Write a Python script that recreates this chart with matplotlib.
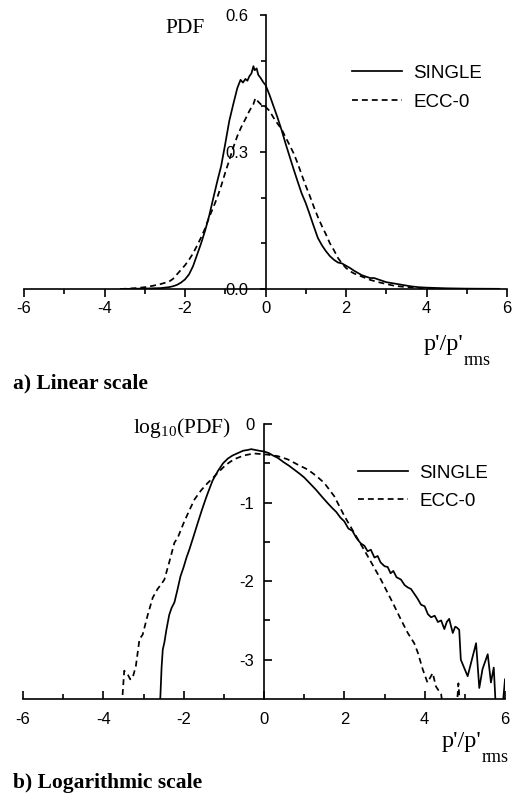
import numpy as np
import matplotlib
matplotlib.use("Agg")
import matplotlib.pyplot as plt
from matplotlib.ticker import FixedLocator, FormatStrFormatter

plt.rcParams["font.family"] = ["Liberation Sans", "DejaVu Sans"]
plt.rcParams["axes.unicode_minus"] = False
plt.rcParams["mathtext.fontset"] = "custom"
plt.rcParams["mathtext.rm"] = "Liberation Serif"
plt.rcParams["mathtext.it"] = "Liberation Serif:italic"

SERIF = "Liberation Serif"

# PDF of normalised pressure fluctuation, linear scale (x, PDF)
SINGLE_LIN = [
    (-3.6, 0.000), (-3.0, 0.001), (-2.6, 0.002), (-2.4, 0.004), (-2.3, 0.006),
    (-2.2, 0.009), (-2.1, 0.014), (-2.0, 0.021), (-1.9, 0.032), (-1.8, 0.050),
    (-1.7, 0.075), (-1.6, 0.100), (-1.5, 0.128), (-1.4, 0.160), (-1.3, 0.198),
    (-1.2, 0.235), (-1.1, 0.270), (-1.0, 0.318), (-0.9, 0.368), (-0.8, 0.405),
    (-0.7, 0.440), (-0.62, 0.458), (-0.56, 0.452), (-0.5, 0.460), (-0.45, 0.456),
    (-0.4, 0.466), (-0.35, 0.472), (-0.3, 0.488), (-0.27, 0.479), (-0.22, 0.483),
    (-0.18, 0.469), (-0.12, 0.462), (-0.05, 0.452), (0.0, 0.447), (0.1, 0.425),
    (0.2, 0.400), (0.3, 0.375), (0.4, 0.348), (0.5, 0.318), (0.6, 0.290),
    (0.7, 0.262), (0.8, 0.235), (0.9, 0.209), (1.0, 0.188), (1.1, 0.163),
    (1.2, 0.137), (1.3, 0.112), (1.4, 0.096), (1.5, 0.083), (1.6, 0.072),
    (1.7, 0.064), (1.8, 0.058), (1.9, 0.056), (2.0, 0.051), (2.1, 0.046),
    (2.2, 0.040), (2.3, 0.035), (2.4, 0.030), (2.5, 0.027), (2.6, 0.024),
    (2.7, 0.024), (2.8, 0.021), (2.9, 0.018), (3.0, 0.015), (3.2, 0.012),
    (3.4, 0.009), (3.6, 0.006), (3.8, 0.004), (4.0, 0.003), (4.5, 0.0015),
    (5.0, 0.0008), (5.8, 0.0004),
]
ECC0_LIN = [
    (-3.6, 0.000), (-3.2, 0.002), (-3.0, 0.004), (-2.8, 0.007), (-2.6, 0.011),
    (-2.4, 0.016), (-2.3, 0.022), (-2.2, 0.032), (-2.1, 0.042), (-2.0, 0.052),
    (-1.9, 0.064), (-1.8, 0.078), (-1.7, 0.095), (-1.6, 0.113), (-1.5, 0.133),
    (-1.4, 0.157), (-1.3, 0.178), (-1.2, 0.200), (-1.1, 0.226), (-1.0, 0.255),
    (-0.9, 0.282), (-0.8, 0.310), (-0.7, 0.335), (-0.6, 0.355), (-0.5, 0.372),
    (-0.4, 0.390), (-0.3, 0.405), (-0.25, 0.418), (-0.18, 0.410), (-0.1, 0.403),
    (0.0, 0.399), (0.1, 0.390), (0.2, 0.375), (0.3, 0.362), (0.4, 0.350),
    (0.5, 0.332), (0.6, 0.315), (0.7, 0.297), (0.8, 0.275), (0.9, 0.250),
    (1.0, 0.226), (1.1, 0.204), (1.2, 0.180), (1.3, 0.158), (1.4, 0.138),
    (1.5, 0.120), (1.6, 0.100), (1.7, 0.085), (1.8, 0.068), (1.9, 0.056),
    (2.0, 0.046), (2.1, 0.039), (2.2, 0.034), (2.4, 0.027), (2.6, 0.020),
    (2.8, 0.015), (3.0, 0.011), (3.2, 0.007), (3.4, 0.005), (3.7, 0.003),
    (4.0, 0.001), (4.3, 0.000),
]

# same PDFs as log10 (x, log10 PDF); values below -3.5 run off the axis
SINGLE_LOG = [
    (-2.62, -3.70), (-2.58, -3.47), (-2.55, -3.10), (-2.52, -2.87), (-2.48, -2.78),
    (-2.43, -2.62), (-2.36, -2.43), (-2.30, -2.34), (-2.23, -2.27), (-2.15, -2.10),
    (-2.08, -1.94), (-2.00, -1.82), (-1.93, -1.70), (-1.86, -1.60), (-1.76, -1.44),
    (-1.65, -1.26), (-1.55, -1.10), (-1.47, -0.98), (-1.40, -0.88), (-1.28, -0.72),
    (-1.15, -0.60), (-1.02, -0.50), (-0.90, -0.44), (-0.78, -0.40), (-0.65, -0.37),
    (-0.52, -0.34), (-0.40, -0.33), (-0.32, -0.32), (-0.22, -0.33), (-0.12, -0.34),
    (0.00, -0.35), (0.12, -0.37), (0.22, -0.40), (0.34, -0.43), (0.50, -0.49),
    (0.62, -0.53), (0.75, -0.58), (0.88, -0.63), (1.00, -0.68), (1.17, -0.77),
    (1.30, -0.84), (1.45, -0.93), (1.59, -1.01), (1.70, -1.07), (1.80, -1.12),
    (1.90, -1.19), (2.00, -1.24), (2.10, -1.33), (2.20, -1.36), (2.30, -1.45),
    (2.41, -1.52), (2.50, -1.55), (2.58, -1.62), (2.66, -1.60), (2.75, -1.70),
    (2.83, -1.68), (2.90, -1.76), (3.00, -1.81), (3.08, -1.82), (3.15, -1.90),
    (3.22, -1.87), (3.30, -1.95), (3.41, -1.98), (3.50, -2.05), (3.58, -2.08),
    (3.66, -2.10), (3.74, -2.16), (3.82, -2.22), (3.91, -2.30), (4.00, -2.32),
    (4.08, -2.42), (4.16, -2.46), (4.25, -2.44), (4.33, -2.52), (4.41, -2.50),
    (4.49, -2.61), (4.55, -2.52), (4.61, -2.48), (4.70, -2.66), (4.76, -2.58),
    (4.80, -2.59), (4.86, -2.62), (4.90, -3.00), (5.07, -3.21), (5.28, -2.79),
    (5.36, -3.36), (5.44, -3.12), (5.57, -2.93), (5.65, -3.29), (5.72, -3.10),
    (5.77, -3.60), (5.94, -3.60), (6.00, -3.25),
]
ECC0_LOG = [
    (-3.55, -3.70), (-3.52, -3.44), (-3.48, -3.14), (-3.39, -3.19), (-3.33, -3.25),
    (-3.27, -3.23), (-3.19, -3.08), (-3.10, -2.74), (-3.02, -2.68), (-2.90, -2.44),
    (-2.77, -2.21), (-2.65, -2.10), (-2.56, -2.04), (-2.48, -1.98), (-2.36, -1.76),
    (-2.23, -1.51), (-2.15, -1.45), (-2.00, -1.26), (-1.86, -1.10), (-1.73, -0.96),
    (-1.56, -0.84), (-1.40, -0.75), (-1.28, -0.69), (-1.15, -0.62), (-0.95, -0.52),
    (-0.75, -0.45), (-0.50, -0.40), (-0.25, -0.375), (0.09, -0.39), (0.35, -0.41),
    (0.59, -0.45), (0.85, -0.52), (1.09, -0.58), (1.30, -0.66), (1.50, -0.75),
    (1.75, -0.92), (2.00, -1.17), (2.25, -1.39), (2.58, -1.68), (2.91, -1.98),
    (3.20, -2.27), (3.41, -2.49), (3.58, -2.66), (3.74, -2.79), (3.83, -2.91),
    (3.95, -3.12), (4.07, -3.29), (4.20, -3.17), (4.28, -3.34), (4.41, -3.44),
    (4.48, -3.70), (np.nan, np.nan), (4.80, -3.60), (4.84, -3.30), (4.88, -3.60),
]

X_MAJOR = [-6, -4, -2, 0, 2, 4, 6]
X_MINOR = [-5, -3, -1, 1, 3, 5]
LIN_MAJOR = [0.0, 0.3, 0.6]
LIN_MINOR = [0.1, 0.2, 0.4, 0.5]
LOG_MAJOR = [-3, -2, -1, 0]
LOG_MINOR = [-2.5, -1.5, -0.5]

LW = 1.25
DASH = (0, (3.4, 2.3))
TICK_FS = 12
LEGEND_FS = 13.5


def style_axes(ax, ylim, ymaj, ymin, fmt, direction, ypad):
    ax.set_xlim(-6, 6)
    ax.set_ylim(*ylim)
    for side in ("top", "right"):
        ax.spines[side].set_visible(False)
    ax.spines["left"].set_position(("data", 0))
    for sp in ax.spines.values():
        sp.set_linewidth(1.2)
    ax.xaxis.set_major_locator(FixedLocator(X_MAJOR))
    ax.xaxis.set_minor_locator(FixedLocator(X_MINOR))
    ax.yaxis.set_major_locator(FixedLocator(ymaj))
    ax.yaxis.set_minor_locator(FixedLocator(ymin))
    ax.yaxis.set_major_formatter(FormatStrFormatter(fmt))
    xpad = 3 if direction == "out" else 9
    ax.tick_params(axis="x", which="major", direction=direction, length=6,
                   width=1.2, pad=xpad, labelsize=TICK_FS)
    ax.tick_params(axis="x", which="minor", direction=direction, length=3.5,
                   width=1.2)
    ax.tick_params(axis="y", which="major", direction=direction,
                   length=4 if direction == "out" else 6, width=1.2,
                   pad=ypad, labelsize=TICK_FS)
    ax.tick_params(axis="y", which="minor", direction=direction,
                   length=3.5 if direction == "out" else 4.5, width=1.2)


def draw_curves(ax, single, ecc0):
    s = np.array(single)
    e = np.array(ecc0)
    ax.plot(s[:, 0], s[:, 1], color="black", lw=LW, label="SINGLE")
    ax.plot(e[:, 0], e[:, 1], color="black", lw=LW, ls=DASH, label="ECC-0")


def add_legend(ax, x, y, spacing):
    ax.legend(loc="upper left", bbox_to_anchor=(x, y), frameon=False,
              fontsize=LEGEND_FS, handlelength=2.65, handletextpad=0.62,
              labelspacing=spacing, borderpad=0, borderaxespad=0)


def pressure_label(fig, x_px, base_px):
    # p'/p' with a deep "rms" subscript, split at x_px
    fig.text(x_px / W, 1 - base_px / H, "p'/p'", family=SERIF, fontsize=17.5,
             ha="right", va="baseline")
    fig.text((x_px + 1) / W, 1 - (base_px + 15) / H, "rms", family=SERIF,
             fontsize=13, ha="left", va="baseline")


fig = plt.figure(figsize=(5.22, 7.94), dpi=100)
W, H = 522.0, 794.0

# a) linear scale
ax1 = fig.add_axes([24 / W, 1 - 289 / H, 483 / W, 274 / H])
draw_curves(ax1, SINGLE_LIN, ECC0_LIN)
style_axes(ax1, (0, 0.6), LIN_MAJOR, LIN_MINOR, "%.1f", "out", 8)
add_legend(ax1, 0.679, 0.818, 0.62)

# b) logarithmic scale
ax2 = fig.add_axes([23 / W, 1 - 699 / H, 482 / W, 275 / H])
draw_curves(ax2, SINGLE_LOG, ECC0_LOG)
style_axes(ax2, (-3.5, 0), LOG_MAJOR, LOG_MINOR, "%g", "in", 7)
add_legend(ax2, 0.695, 0.852, 0.57)

# axis titles and captions
fig.text(165 / W, 1 - 33 / H, "PDF", family=SERIF, fontsize=15.5,
         ha="left", va="baseline")
pressure_label(fig, 463, 350)
fig.text(13 / W, 1 - 388 / H, "a) Linear scale", family=SERIF,
         fontsize=15.5, fontweight="bold", ha="left", va="baseline")

fig.text(231 / W, 1 - 433 / H, r"log$_{10}$(PDF)", family=SERIF,
         fontsize=15.5, ha="right", va="baseline")
pressure_label(fig, 481, 747)
fig.text(13 / W, 1 - 788 / H, "b) Logarithmic scale", family=SERIF,
         fontsize=15.5, fontweight="bold", ha="left", va="baseline")

fig.savefig("out.png", dpi=100)
